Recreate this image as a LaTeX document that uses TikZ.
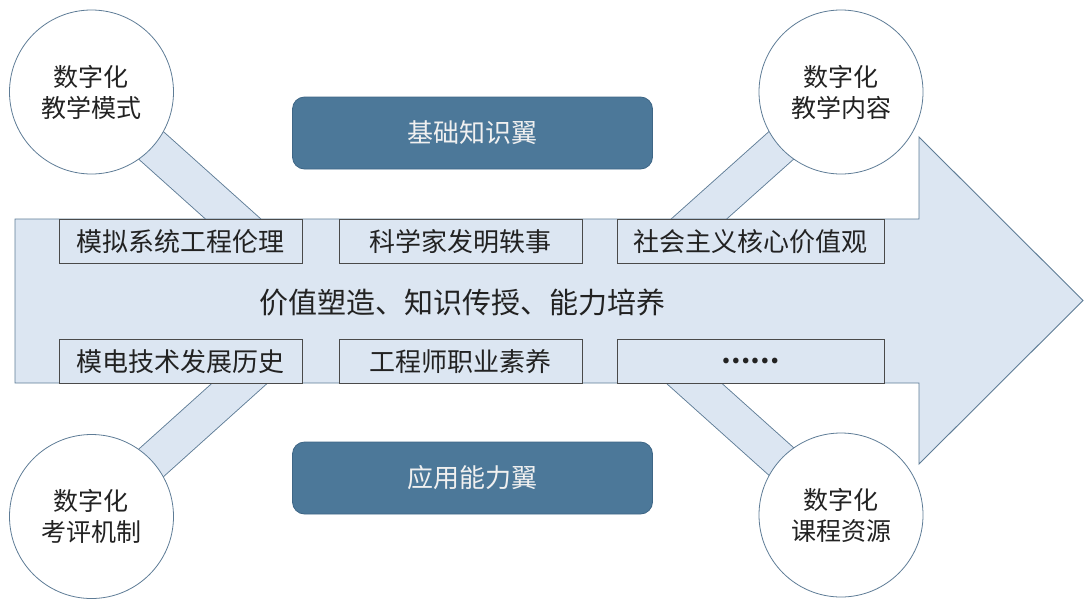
\documentclass[tikz,border=0pt]{standalone}
\usepackage{fontspec}
\setmainfont{Noto Sans CJK SC}
\definecolor{lblue}{HTML}{DCE6F2}
\definecolor{edgeb}{HTML}{5E7C96}
\definecolor{boxedge}{HTML}{4A4A4A}
\definecolor{dark}{HTML}{4C7899}
\definecolor{darkedge}{HTML}{3E6686}
\definecolor{txt}{HTML}{222222}
\begin{document}
\begin{tikzpicture}[x=1pt,y=-1pt,
  bar/.style={draw=edgeb,line width=0.9pt,double=lblue,double distance=36pt},
  circ/.style={circle,draw=edgeb,line width=0.8pt,fill=white,minimum size=164pt,inner sep=0pt,align=center,text=txt,font=\fontsize{25}{31}\selectfont},
  itembox/.style={draw=boxedge,line width=0.8pt,fill=lblue,minimum height=44pt,inner sep=0pt,text=txt,font=\fontsize{26}{30}\selectfont,anchor=north west},
  wing/.style={draw=darkedge,line width=0.8pt,fill=dark,rounded corners=12pt,minimum width=360pt,minimum height=72pt,text=white!94!black,font=\fontsize{26}{30}\selectfont}]
\useasboundingbox (0,0) rectangle (1089,600);
% circle centres
\coordinate (p1) at (91.5,92);
\coordinate (p2) at (841,92);
\coordinate (p3) at (91.5,516.5);
\coordinate (p4) at (841,515);
% bar ends hidden inside the arrow
\coordinate (e1) at (270,252);
\coordinate (e2) at (662,252);
\coordinate (e3) at (270,356);
\coordinate (e4) at (662.5,355);
\draw[bar] (p1) -- (e1);
\draw[bar] (p2) -- (e2);
\draw[bar] (p3) -- (e3);
\draw[bar] (p4) -- (e4);
% big arrow
\draw[draw=edgeb,line width=0.9pt,fill=lblue,line join=miter]
  (15,219) -- (919,219) -- (919,137) -- (1083,300.5) -- (919,464) -- (919,383) -- (15,383) -- cycle;
% item boxes
\node[itembox,minimum width=243pt] (a1) at (59,219) {模拟系统工程伦理};
\node[itembox,minimum width=243pt] (a2) at (339,219) {科学家发明轶事};
\node[itembox,minimum width=267pt] (a3) at (617,219) {社会主义核心价值观};
\node[itembox,minimum width=243pt] (b1) at (59,339) {模电技术发展历史};
\node[itembox,minimum width=243pt] (b2) at (339,339) {工程师职业素养};
\node[itembox,minimum width=267pt] (b3) at (617,339) {\bfseries ……};
\node[text=txt,font=\fontsize{29}{33}\selectfont] (main) at (462,302) {价值塑造、知识传授、能力培养};
% circles
\node[circ] (c1) at (p1) {数字化\\教学模式};
\node[circ] (c2) at (p2) {数字化\\教学内容};
\node[circ] (c3) at (p3) {数字化\\考评机制};
\node[circ] (c4) at (p4) {数字化\\课程资源};
% wings
\node[wing] (w1) at (472.5,133) {基础知识翼};
\node[wing] (w2) at (472.5,478) {应用能力翼};
\end{tikzpicture}
\end{document}
